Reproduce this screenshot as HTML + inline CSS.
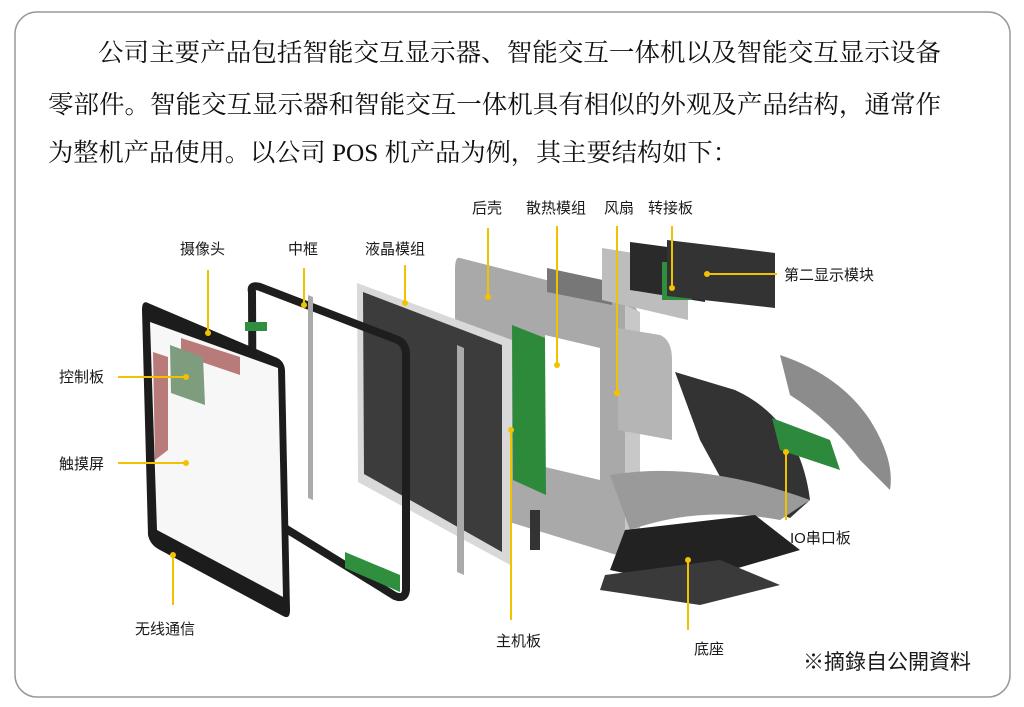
<!DOCTYPE html>
<html><head><meta charset="utf-8"><style>
html,body{margin:0;padding:0;background:#fff;width:1024px;height:707px;overflow:hidden}
svg{display:block}
.t{font-family:"Liberation Serif","Noto Serif CJK SC",serif;font-size:25px;fill:#111}
.l{font-family:"Liberation Sans","Noto Sans CJK SC",sans-serif;font-size:15px;fill:#1a1a1a}
.y{stroke:#f2c200;stroke-width:2;fill:none}
.d{fill:#f2c200}
</style></head><body>
<svg width="1024" height="707" viewBox="0 0 1024 707">
<rect x="15" y="12" width="995" height="685" rx="22" fill="#fff" stroke="#999" stroke-width="1.5"/>
<text class="t" x="98" y="61" textLength="843" lengthAdjust="spacingAndGlyphs">公司主要产品包括智能交互显示器、智能交互一体机以及智能交互显示设备</text>
<text class="t" x="48" y="113" textLength="893" lengthAdjust="spacingAndGlyphs">零部件。智能交互显示器和智能交互一体机具有相似的外观及产品结构，通常作</text>
<text class="t" x="48" y="161" textLength="690" lengthAdjust="spacingAndGlyphs">为整机产品使用。以公司 POS 机产品为例，其主要结构如下：</text>

<!-- back shell -->
<path d="M460 258 L625 300 Q640 305 640 325 L640 545 Q638 560 620 556 L470 510 Q455 505 455 490 L455 270 Q455 256 460 258Z" fill="#a9a9a9"/>
<path d="M545 335 L600 348 L600 480 L545 467Z" fill="#fff"/>
<path d="M625 305 L640 312 L640 548 L625 545Z" fill="#c8c8c8"/>
<!-- heatsink -->
<path d="M547 268 L612 282 L612 305 L547 292Z" fill="#777"/>
<!-- fan / cover -->
<path d="M602 248 L665 258 Q688 262 688 290 L688 320 L602 300Z" fill="#bdbdbd"/>
<!-- second display -->
<path d="M630 242 L705 252 L705 302 L630 290Z" fill="#2a2a2a"/>
<rect x="662" y="262" width="30" height="38" fill="#2f8f3f"/>
<path d="M667 240 L775 253 L775 308 L667 296Z" fill="#333"/>
<!-- stand -->
<path d="M618 328 L660 335 Q672 340 672 360 L672 440 L618 430Z" fill="#b5b5b5"/>
<path d="M675 372 L735 390 Q800 420 810 500 L790 518 L730 495 L700 440Z" fill="#333"/>
<path d="M780 355 Q840 375 870 420 Q895 460 890 490 L860 460 Q830 420 790 395Z" fill="#8c8c8c"/>
<path d="M772 418 L830 440 L840 470 L780 450Z" fill="#2d8a3c"/>
<path d="M610 475 Q700 460 810 500 L780 520 Q700 505 630 530 Z" fill="#9a9a9a"/>
<path d="M625 530 L755 515 L800 550 L680 585 L610 570Z" fill="#222"/>
<path d="M605 575 L720 560 L780 585 L700 605 L600 590Z" fill="#3a3a3a"/>
<!-- main board -->
<path d="M512 325 L545 338 L546 495 L513 480Z" fill="#2c8a3a"/>
<rect x="530" y="510" width="10" height="40" fill="#333"/>
<!-- LCD -->
<path d="M357 283 L512 340 L512 566 L358 482Z" fill="#d9d9d9"/>
<path d="M363 292 L502 345 L502 552 L364 474Z" fill="#3c3c3c"/>
<path d="M457 345 L464 348 L464 575 L457 572Z" fill="#aaa"/>
<!-- middle frame -->
<path d="M252 292 Q250 284 260 287 L398 340 Q406 344 406 355 L406 590 Q405 600 395 596 L262 514 Q253 508 253 500Z" fill="none" stroke="#1e1e1e" stroke-width="8"/>
<path d="M252 380 L262 390 L262 510 L252 500Z" fill="#888"/>
<rect x="245" y="322" width="22" height="9" fill="#2f8f3f"/>
<path d="M345 552 L400 575 L400 592 L345 568Z" fill="#2f8f3f"/>
<path d="M308 295 L313 297 L313 500 L308 498Z" fill="#aaa"/>
<!-- front touch panel -->
<path d="M148 303 Q142 300 142 310 L148 535 Q150 545 160 550 L283 616 Q290 620 290 610 L285 370 Q284 360 275 357Z" fill="#1c1c1c"/>
<path d="M150 322 L278 368 L283 597 L157 530Z" fill="#f7f7f7"/>
<path d="M181 338 L240 357 L240 375 L181 355Z" fill="#b97a7a"/>
<path d="M170 345 L203 357 L205 405 L171 393Z" fill="#7e9c7e"/>
<path d="M153 352 L168 357 L168 450 L155 460Z" fill="#b97a7a"/>

<!-- leaders -->
<g class="y">
<line x1="208" y1="270" x2="208" y2="333"/>
<line x1="304" y1="268" x2="304" y2="305"/>
<line x1="405" y1="265" x2="405" y2="303"/>
<line x1="488" y1="228" x2="488" y2="297"/>
<line x1="557" y1="226" x2="557" y2="365"/>
<line x1="617" y1="226" x2="617" y2="393"/>
<line x1="672" y1="226" x2="672" y2="288"/>
<line x1="707" y1="274" x2="777" y2="274"/>
<line x1="118" y1="377" x2="186" y2="377"/>
<line x1="118" y1="463" x2="186" y2="463"/>
<line x1="173" y1="555" x2="173" y2="605"/>
<line x1="511" y1="430" x2="511" y2="620"/>
<line x1="688" y1="560" x2="688" y2="630"/>
<line x1="786" y1="452" x2="786" y2="520"/>
</g>
<g class="d">
<circle cx="208" cy="333" r="3"/><circle cx="304" cy="305" r="3"/><circle cx="405" cy="303" r="3"/>
<circle cx="488" cy="297" r="3"/><circle cx="557" cy="365" r="3"/><circle cx="617" cy="393" r="3"/>
<circle cx="672" cy="288" r="3"/><circle cx="707" cy="274" r="3"/><circle cx="186" cy="377" r="3"/>
<circle cx="186" cy="463" r="3"/><circle cx="173" cy="555" r="3"/><circle cx="511" cy="430" r="3"/>
<circle cx="688" cy="560" r="3"/><circle cx="786" cy="452" r="3"/>
</g>
<g class="l">
<text x="180" y="254">摄像头</text>
<text x="288" y="254">中框</text>
<text x="365" y="254">液晶模组</text>
<text x="472" y="213">后壳</text>
<text x="526" y="213">散热模组</text>
<text x="604" y="213">风扇</text>
<text x="648" y="213">转接板</text>
<text x="784" y="280">第二显示模块</text>
<text x="59" y="382">控制板</text>
<text x="59" y="469">触摸屏</text>
<text x="135" y="634">无线通信</text>
<text x="496" y="646">主机板</text>
<text x="694" y="654">底座</text>
<text x="790" y="543">IO串口板</text>
<text x="803" y="669" style="font-size:21px">※摘錄自公開資料</text>
</g>
</svg>
</body></html>
